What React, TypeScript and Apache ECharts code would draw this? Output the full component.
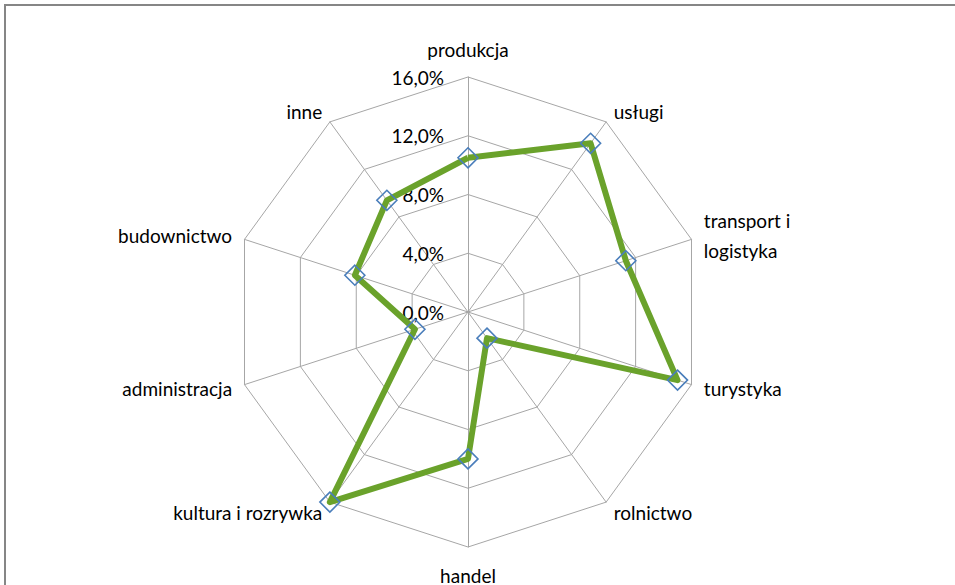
import React, { useEffect, useRef } from "react";
import * as echarts from "echarts";

const categories = [
  "produkcja",
  "usługi",
  "transport i\nlogistyka",
  "turystyka",
  "rolnictwo",
  "handel",
  "kultura i rozrywka",
  "administracja",
  "budownictwo",
  "inne",
];
const values = [10.5, 14.2, 11.3, 15.0, 2.2, 10.0, 16.0, 3.8, 8.1, 9.4];
const axisMax = 16;
const axisSplits = 4;

export default function App() {
  const ref = useRef<HTMLDivElement>(null);
  useEffect(() => {
    if (!ref.current) return;
    const chart = echarts.init(ref.current, null, { renderer: "svg" });
    // ECharts radar runs counter-clockwise; reverse the rest to go clockwise like the source
    const order = [0, ...categories.slice(1).map((_, i) => categories.length - 1 - i)];
    const indicator = order.map((idx, k) => ({
      name: categories[idx],
      min: 0,
      max: axisMax,
      ...(k === 0
        ? {
            axisLabel: {
              show: true,
              margin: 24,
              color: "#000",
              fontFamily: "Lato",
              fontSize: 19,
              formatter: (v: number) => v.toFixed(1).replace(".", ",") + "%",
            },
          }
        : {}),
    }));
    const data = order.map((idx) => values[idx]);
    chart.setOption({
      animation: false,
      backgroundColor: "#fff",
      radar: {
        center: [468, 312],
        radius: 235,
        startAngle: 90,
        shape: "polygon",
        splitNumber: axisSplits,
        indicator,
        axisName: {
          color: "#000",
          fontFamily: "Lato",
          fontSize: 19,
          lineHeight: 30,
        },
        nameGap: 13,
        axisLabel: { show: false },
        axisLine: { lineStyle: { color: "#a6a6a6", width: 1 } },
        splitLine: { lineStyle: { color: "#a6a6a6", width: 1 } },
        splitArea: { show: false },
        axisTick: { show: false },
      },
      series: [
        {
          type: "radar",
          data: [{ value: data }],
          symbol: "diamond",
          symbolSize: 20,
          lineStyle: { color: "#6aa22b", width: 6 },
          itemStyle: { color: "none", borderColor: "#4a7ebb", borderWidth: 1.6 },
        },
      ],
      graphic: [
        { type: "line", shape: { x1: 4, y1: 5, x2: 955, y2: 5 }, style: { stroke: "#868686", lineWidth: 2 } },
        { type: "line", shape: { x1: 5, y1: 4, x2: 5, y2: 585 }, style: { stroke: "#868686", lineWidth: 2 } },
      ],
    });
    return () => chart.dispose();
  }, []);
  return (
    <div
      ref={ref}
      style={{ position: "absolute", left: 0, top: 0, width: 955, height: 585, background: "#fff" }}
    />
  );
}
